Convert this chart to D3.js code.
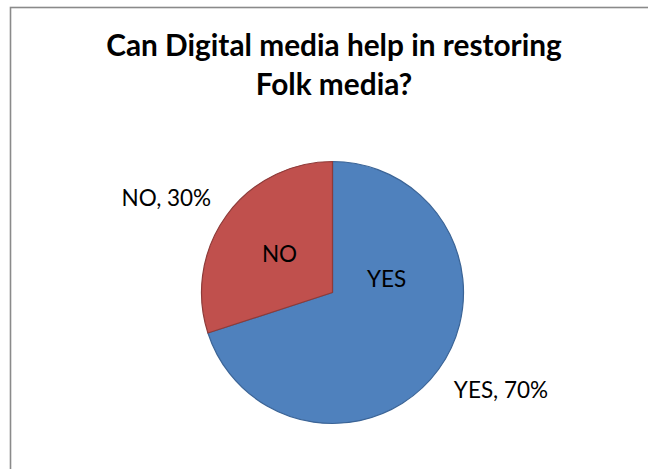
<!DOCTYPE html>
<html>
<head>
<meta charset="utf-8">
<script src="https://cdn.jsdelivr.net/npm/d3@7"></script>
<style>
  html, body { margin: 0; padding: 0; background: #fff; }
  svg { display: block; }
</style>
</head>
<body>
<script>
// Survey answers and their shares
const categories = ["YES", "NO"];
const shares = [0.70, 0.30];
const titleLines = ["Can Digital media help in restoring", "Folk media?"];

const fills = d3.scaleOrdinal().domain(categories).range(["#4F81BD", "#C0504D"]);
const edges = d3.scaleOrdinal().domain(categories).range(["#3B6496", "#8E3B39"]);

const W = 648, H = 469;
const cx = 332.5, cy = 292.5, r = 131;
const font = "Lato, 'Open Sans', sans-serif";

const svg = d3.select("body").append("svg")
  .attr("width", W).attr("height", H);

svg.append("rect").attr("width", W).attr("height", H).attr("fill", "#fff");

// chart area frame (runs past the right and bottom edges)
svg.append("rect")
  .attr("x", 10.5).attr("y", 7.5)
  .attr("width", 700).attr("height", 500)
  .attr("fill", "none")
  .attr("stroke", "#8a8a8a")
  .attr("stroke-width", 1.6);

// title
svg.append("g").selectAll("text")
  .data(titleLines)
  .join("text")
  .attr("x", 334)
  .attr("y", (d, i) => 56 + i * 38.5)
  .attr("text-anchor", "middle")
  .attr("font-family", font)
  .attr("font-weight", "bold")
  .attr("font-size", 29.8)
  .attr("fill", "#000")
  .text(d => d);

const data = categories.map((c, i) => ({ cat: c, value: shares[i] }));
const pie = d3.pie().value(d => d.value).sort(null).startAngle(0).endAngle(2 * Math.PI);
const arcs = pie(data);
const arc = d3.arc().innerRadius(0).outerRadius(r);

const g = svg.append("g").attr("transform", `translate(${cx},${cy})`);

g.selectAll("path")
  .data(arcs)
  .join("path")
  .attr("d", arc)
  .attr("fill", d => fills(d.data.cat))
  .attr("stroke", d => edges(d.data.cat))
  .attr("stroke-width", 1.2)
  .attr("stroke-linejoin", "round");

// category names inside the slices
const innerOffset = { YES: [54, -13.5], NO: null };
g.selectAll("text.inner")
  .data(arcs)
  .join("text")
  .attr("class", "inner")
  .attr("transform", d => {
    const c = innerOffset[d.data.cat] || arc.centroid(d);
    return `translate(${c[0]},${c[1]})`;
  })
  .attr("dy", "0.35em")
  .attr("text-anchor", "middle")
  .attr("font-family", font)
  .attr("font-size", 22.5)
  .attr("fill", "#000")
  .text(d => d.data.cat);

// value labels outside the pie
const pct = d3.format(".0%");
const outerR = r + 19;
g.selectAll("text.outer")
  .data(arcs)
  .join("text")
  .attr("class", "outer")
  .each(function (d) {
    const a = (d.startAngle + d.endAngle) / 2;
    const x = Math.sin(a) * outerR, y = -Math.cos(a) * outerR;
    d3.select(this)
      .attr("x", x)
      .attr("y", y > 0 ? y + 17 : y + 2)
      .attr("text-anchor", x >= 0 ? "start" : "end");
  })
  .attr("font-family", font)
  .attr("font-size", 22.5)
  .attr("fill", "#000")
  .text(d => `${d.data.cat}, ${pct(d.data.value)}`);
</script>
</body>
</html>
